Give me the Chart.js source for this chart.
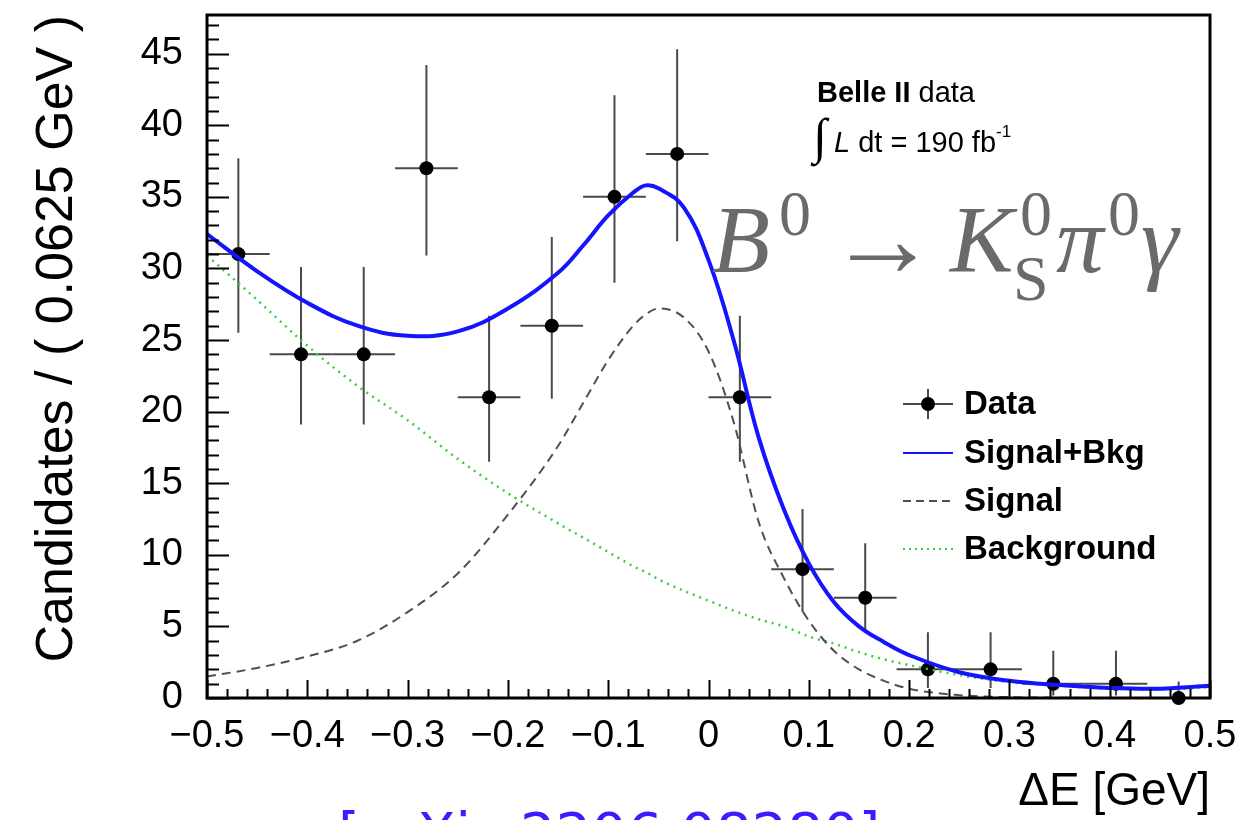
<!DOCTYPE html>
<html>
<head>
<meta charset="utf-8">
<script src="https://cdn.jsdelivr.net/npm/chart.js@4.4.1/dist/chart.umd.min.js"></script>
<style>
html, body { margin: 0; padding: 0; background: #fff; }
#wrap { width: 1254px; height: 820px; }
</style>
</head>
<body>
<div id="wrap"><canvas id="chart" width="1254" height="820"></canvas></div>
<script>
// histogram of Delta E, 16 bins of 0.0625 GeV
const binCenters = [-0.46875, -0.40625, -0.34375, -0.28125, -0.21875, -0.15625, -0.09375, -0.03125,
    0.03125, 0.09375, 0.15625, 0.21875, 0.28125, 0.34375, 0.40625, 0.46875];
const counts = [31, 24, 24, 37, 21, 26, 35, 38, 21, 9, 7, 2, 2, 1, 1, 0];
const errHigh = [37.7, 30.1, 30.1, 44.2, 26.7, 32.2, 42.1, 45.3, 26.7, 13.2, 10.8, 4.6, 4.6, 3.3, 3.3, 1.15];
const errLow = [25.5, 19.1, 19.1, 30.9, 16.5, 20.9, 29.0, 31.9, 16.5, 6.0, 4.7, 0.7, 0.7, 0.17, 0.17, 0];
const binHalfWidth = 0.03125;

// fit curves
const curveX = [-0.5, -0.45, -0.4, -0.35, -0.3, -0.25, -0.2, -0.15, -0.125, -0.1, -0.075, -0.0625, -0.05,
    -0.025, 0, 0.025, 0.05, 0.075, 0.1, 0.125, 0.15, 0.175, 0.2, 0.25, 0.3, 0.35, 0.4, 0.45, 0.5];
const totalFit = [32.4, 29.8, 27.6, 26.0, 25.3, 25.6, 27.2, 29.7, 31.6, 33.7, 35.3, 35.8, 35.6,
    34.3, 30.6, 25.0, 18.2, 13.2, 9.4, 6.7, 5.0, 3.9, 3.0, 1.8, 1.2, 0.9, 0.7, 0.65, 0.85];
const signalFit = [1.5, 2.1, 2.9, 4.0, 6.0, 8.7, 12.8, 17.6, 20.6, 23.6, 26.0, 26.8, 27.2,
    26.6, 24.2, 19.3, 12.3, 8.4, 5.4, 3.3, 2.0, 1.2, 0.65, 0.2, 0.06, 0.02, 0, 0, 0];
const bkgFit = [30.9, 27.8, 24.6, 21.8, 19.4, 16.7, 14.3, 12.2, 11.2, 10.2, 9.2, 8.8, 8.3,
    7.5, 6.8, 6.1, 5.5, 5.0, 4.3, 3.8, 3.2, 2.7, 2.3, 1.6, 1.1, 0.85, 0.65, 0.6, 0.75];

const xTickValues = [-0.5, -0.4, -0.3, -0.2, -0.1, 0, 0.1, 0.2, 0.3, 0.4, 0.5];
const xTickLabels = ['\u22120.5', '\u22120.4', '\u22120.3', '\u22120.2', '\u22120.1', '0', '0.1', '0.2', '0.3', '0.4', '0.5'];
const yTickValues = [0, 5, 10, 15, 20, 25, 30, 35, 40, 45];

const colors = {
    total: '#1414ff',
    signal: '#505050',
    bkg: '#3ccc3c',
    errBar: '#4a4a4a',
    formula: '#6a6a6a',
    link: '#3c1cff'
};

const sansFont = '"Liberation Sans", Arial, sans-serif';
const serifFont = '"Liberation Serif", "Times New Roman", serif';

function toPoints(xs, ys) {
    return xs.map((x, i) => ({ x: x, y: ys[i] }));
}

function noScalePadding(s) {
    s.paddingTop = 0;
    s.paddingBottom = 0;
    s.paddingLeft = 0;
    s.paddingRight = 0;
}

// error bars under the markers
const errorBarPlugin = {
    id: 'errorBars',
    beforeDatasetsDraw(chart) {
        const ctx = chart.ctx;
        const xs = chart.scales.x, ys = chart.scales.y;
        ctx.save();
        ctx.strokeStyle = colors.errBar;
        ctx.lineWidth = 2;
        for (let i = 0; i < binCenters.length; i++) {
            const px = xs.getPixelForValue(binCenters[i]);
            const py = ys.getPixelForValue(counts[i]);
            ctx.beginPath();
            ctx.moveTo(px, ys.getPixelForValue(errLow[i]));
            ctx.lineTo(px, ys.getPixelForValue(errHigh[i]));
            ctx.moveTo(xs.getPixelForValue(binCenters[i] - binHalfWidth), py);
            ctx.lineTo(xs.getPixelForValue(binCenters[i] + binHalfWidth), py);
            ctx.stroke();
        }
        ctx.restore();
    }
};

// ROOT style frame with inward ticks, legend and labels
const framePlugin = {
    id: 'rootFrame',
    afterDraw(chart) {
        const ctx = chart.ctx;
        const area = chart.chartArea;
        const xs = chart.scales.x, ys = chart.scales.y;
        ctx.save();
        ctx.strokeStyle = '#000';
        ctx.lineWidth = 2;
        ctx.beginPath();
        for (let v = 0; v <= 47; v++) {
            const py = Math.round(ys.getPixelForValue(v)) + 0.5;
            const len = v % 5 === 0 ? 22 : 12;
            ctx.moveTo(area.left, py);
            ctx.lineTo(area.left + len, py);
        }
        for (let k = 0; k <= 50; k++) {
            const v = -0.5 + k * 0.02;
            const px = Math.round(xs.getPixelForValue(v)) + 0.5;
            const len = k % 5 === 0 ? 18 : 9;
            ctx.moveTo(px, area.bottom);
            ctx.lineTo(px, area.bottom - len);
        }
        ctx.stroke();
        ctx.lineWidth = 3;
        ctx.strokeRect(area.left, area.top, area.right - area.left, area.bottom - area.top);

        // legend
        const lx0 = 903, lx1 = 953, tx = 964;
        const rows = [404, 453, 501, 549];
        ctx.font = 'bold 33px ' + sansFont;
        ctx.fillStyle = '#000';
        ctx.textBaseline = 'middle';
        ctx.textAlign = 'left';
        ctx.strokeStyle = colors.errBar;
        ctx.lineWidth = 2;
        ctx.beginPath();
        ctx.moveTo(lx0, rows[0]); ctx.lineTo(lx1, rows[0]);
        ctx.moveTo(928, rows[0] - 15); ctx.lineTo(928, rows[0] + 15);
        ctx.stroke();
        ctx.beginPath();
        ctx.arc(928, rows[0], 7, 0, Math.PI * 2);
        ctx.fill();
        ctx.fillText('Data', tx, rows[0] + 1);

        ctx.strokeStyle = colors.total;
        ctx.lineWidth = 2;
        ctx.beginPath(); ctx.moveTo(lx0, rows[1]); ctx.lineTo(lx1, rows[1]); ctx.stroke();
        ctx.fillText('Signal+Bkg', tx, rows[1] + 1);

        ctx.strokeStyle = colors.signal;
        ctx.setLineDash([8, 5]);
        ctx.beginPath(); ctx.moveTo(lx0, rows[2]); ctx.lineTo(lx1, rows[2]); ctx.stroke();
        ctx.fillText('Signal', tx, rows[2] + 1);

        ctx.strokeStyle = colors.bkg;
        ctx.setLineDash([2, 4]);
        ctx.beginPath(); ctx.moveTo(lx0, rows[3]); ctx.lineTo(lx1, rows[3]); ctx.stroke();
        ctx.fillText('Background', tx, rows[3] + 1);
        ctx.setLineDash([]);

        // experiment label
        ctx.textBaseline = 'alphabetic';
        ctx.font = 'bold 29px ' + sansFont;
        ctx.fillText('Belle II', 817, 102);
        let w = ctx.measureText('Belle II ').width;
        ctx.font = '29px ' + sansFont;
        ctx.fillText('data', 817 + w, 102);

        ctx.font = '50px ' + serifFont;
        ctx.fillText('\u222B', 813, 153);
        ctx.font = 'italic 29px ' + sansFont;
        ctx.fillText('L', 834, 152);
        let x = 834 + ctx.measureText('L').width;
        ctx.font = '29px ' + sansFont;
        ctx.fillText(' dt = 190 fb', x, 152);
        x += ctx.measureText(' dt = 190 fb').width;
        ctx.font = '17px ' + sansFont;
        ctx.fillText('-1', x, 137);

        // decay formula
        ctx.fillStyle = colors.formula;
        ctx.font = 'italic 95px ' + serifFont;
        ctx.fillText('B', 712, 272);
        ctx.font = '64px ' + serifFont;
        ctx.fillText('0', 779, 235);
        ctx.font = '110px ' + serifFont;
        ctx.fillText('\u2192', 828, 276);
        ctx.font = 'italic 95px ' + serifFont;
        ctx.fillText('K', 950, 272);
        ctx.font = '64px ' + serifFont;
        ctx.fillText('0', 1020, 235);
        ctx.fillText('S', 1013, 300);
        ctx.font = 'italic 95px ' + serifFont;
        ctx.fillText('\u03C0', 1056, 272);
        ctx.font = '64px ' + serifFont;
        ctx.fillText('0', 1108, 235);
        ctx.font = 'italic 95px ' + serifFont;
        ctx.fillText('\u03B3', 1141, 272);

        // reference link, cut by the bottom edge
        ctx.fillStyle = colors.link;
        ctx.font = '56px "DejaVu Sans", sans-serif';
        ctx.fillText('[arXiv:2206.08280]', 338, 852);
        ctx.restore();
    }
};

const ctx = document.getElementById('chart').getContext('2d');
const chart = new Chart(ctx, {
    type: 'line',
    data: {
        datasets: [{
            label: 'Signal+Bkg',
            data: toPoints(curveX, totalFit),
            borderColor: colors.total,
            borderWidth: 4,
            pointRadius: 0,
            tension: 0.4,
            order: 1
        }, {
            label: 'Signal',
            data: toPoints(curveX, signalFit),
            borderColor: colors.signal,
            borderWidth: 2,
            borderDash: [9, 6],
            pointRadius: 0,
            cubicInterpolationMode: 'monotone',
            order: 2
        }, {
            label: 'Background',
            data: toPoints(curveX, bkgFit),
            borderColor: colors.bkg,
            borderWidth: 2.5,
            borderDash: [2, 5],
            pointRadius: 0,
            cubicInterpolationMode: 'monotone',
            order: 3
        }, {
            label: 'Data',
            type: 'scatter',
            data: toPoints(binCenters, counts),
            backgroundColor: '#000',
            borderWidth: 0,
            pointRadius: 7,
            showLine: false,
            clip: false,
            order: 4
        }]
    },
    options: {
        responsive: false,
        animation: false,
        layout: { padding: { left: 0, right: 44, top: 15, bottom: 0 } },
        plugins: { legend: { display: false }, tooltip: { enabled: false } },
        scales: {
            x: {
                type: 'linear',
                min: -0.5,
                max: 0.5,
                afterBuildTicks: (s) => { s.ticks = xTickValues.map(v => ({ value: v })); },
                afterFit: (s) => { s.height = 122; noScalePadding(s); },
                grid: { display: false, drawTicks: false },
                border: { display: false },
                ticks: {
                    autoSkip: false,
                    maxRotation: 0,
                    padding: 16,
                    color: '#000',
                    font: { family: sansFont, size: 38 },
                    callback: (v, i) => xTickLabels[i]
                },
                title: {
                    display: true,
                    text: '\u0394E [GeV]',
                    align: 'end',
                    color: '#000',
                    font: { family: sansFont, size: 46 },
                    padding: { top: 0, bottom: 0 }
                }
            },
            y: {
                type: 'linear',
                min: 0,
                max: 47.7,
                afterBuildTicks: (s) => { s.ticks = yTickValues.map(v => ({ value: v })); },
                afterFit: (s) => { s.width = 207; noScalePadding(s); },
                grid: { display: false, drawTicks: false },
                border: { display: false },
                ticks: {
                    padding: 24,
                    color: '#000',
                    font: { family: sansFont, size: 38 }
                },
                title: {
                    display: true,
                    text: 'Candidates / ( 0.0625 GeV )',
                    align: 'end',
                    color: '#000',
                    font: { family: sansFont, size: 52 },
                    padding: { top: 26, bottom: 0 }
                }
            }
        }
    },
    plugins: [errorBarPlugin, framePlugin]
});
</script>
</body>
</html>
